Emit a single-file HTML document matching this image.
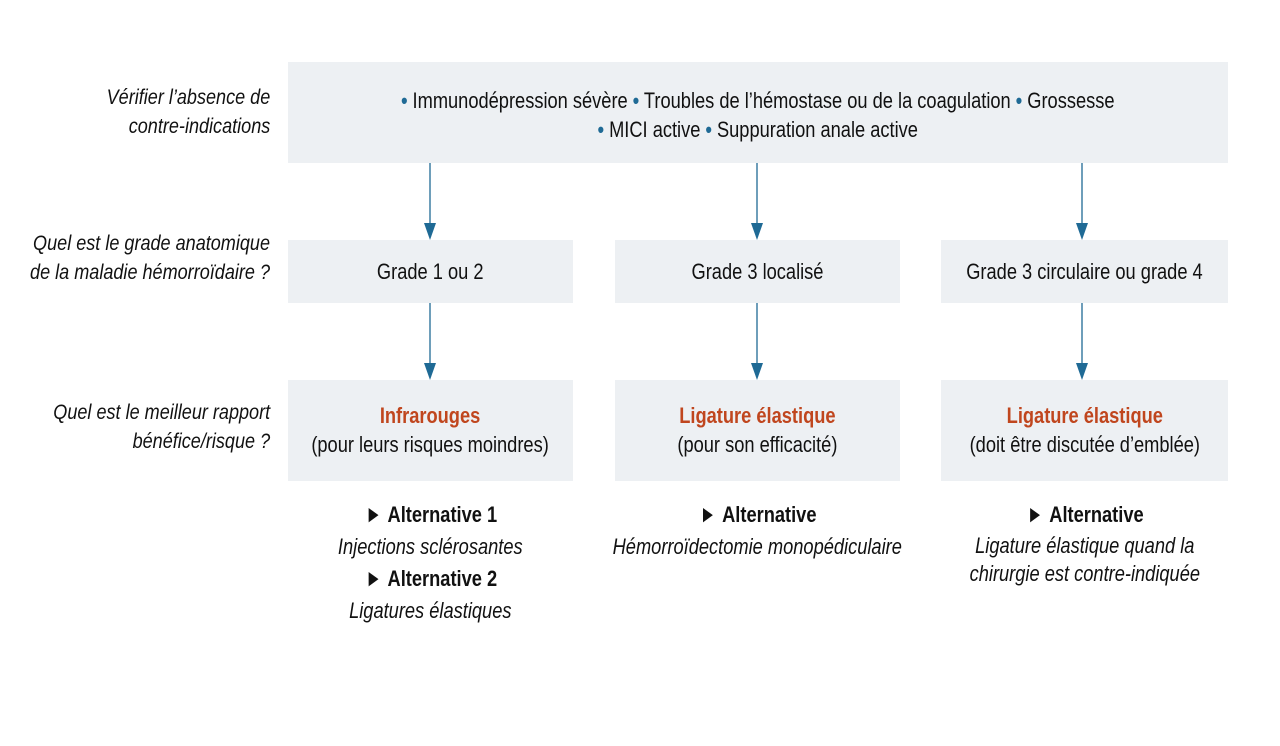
<!DOCTYPE html>
<html><head><meta charset="utf-8"><style>
body{margin:0;width:1280px;height:746px;background:#fff;position:relative;overflow:hidden;font-family:"Liberation Sans Narrow","Liberation Sans",sans-serif;color:#111}
.b{position:absolute;background:#edf0f3}
.t{position:absolute;text-align:center;font-size:22px;line-height:29px;white-space:nowrap}
.t span,.l span{display:inline-block;transform:scaleX(0.83)}
.t span{transform-origin:center}
.l{position:absolute;right:1010px;text-align:right;font-style:italic;font-size:21px;line-height:29px;white-space:nowrap}
.l span{transform-origin:right;transform:scaleX(0.86)}
.r{color:#c0461e;font-weight:bold}
.d{color:#1f6a95}
.a{font-size:24px}
</style></head><body>
<div class="b" style="left:288px;top:62px;width:940px;height:101px"></div>
<div class="b" style="left:288px;top:240px;width:285px;height:63px"></div>
<div class="b" style="left:615px;top:240px;width:285px;height:63px"></div>
<div class="b" style="left:941px;top:240px;width:287px;height:63px"></div>
<div class="b" style="left:288px;top:380px;width:285px;height:101px"></div>
<div class="b" style="left:615px;top:380px;width:285px;height:101px"></div>
<div class="b" style="left:941px;top:380px;width:287px;height:101px"></div>
<svg width="1280" height="746" style="position:absolute;left:0;top:0">
<g stroke="#1f6a95" stroke-width="1.3"><line x1="430" y1="163" x2="430" y2="226"/><line x1="757" y1="163" x2="757" y2="226"/><line x1="1082" y1="163" x2="1082" y2="226"/>
<line x1="430" y1="303" x2="430" y2="366"/><line x1="757" y1="303" x2="757" y2="366"/><line x1="1082" y1="303" x2="1082" y2="366"/></g>
<g fill="#1f6a95"><path d="M424 223h12l-6 17z"/><path d="M751 223h12l-6 17z"/><path d="M1076 223h12l-6 17z"/>
<path d="M424 363h12l-6 17z"/><path d="M751 363h12l-6 17z"/><path d="M1076 363h12l-6 17z"/></g>
</svg>
<div class="l" style="top:83px"><span>Vérifier l’absence de<br>contre-indications</span></div>
<div class="l" style="top:229px"><span>Quel est le grade anatomique<br>de la maladie hémorroïdaire ?</span></div>
<div class="l" style="top:398px"><span>Quel est le meilleur rapport<br>bénéfice/risque ?</span></div>
<div class="t" style="left:288px;width:940px;top:86px"><span><b class="d">•</b> Immunodépression sévère <b class="d">•</b> Troubles de l’hémostase ou de la coagulation <b class="d">•</b> Grossesse<br><b class="d">•</b> MICI active <b class="d">•</b> Suppuration anale active</span></div>
<div class="t" style="left:238px;width:385px;top:257px"><span>Grade 1 ou 2</span></div>
<div class="t" style="left:565px;width:385px;top:257px"><span>Grade 3 localisé</span></div>
<div class="t" style="left:891px;width:387px;top:257px"><span>Grade 3 circulaire ou grade 4</span></div>
<div class="t" style="left:238px;width:385px;top:401px"><span><b class="r">Infrarouges</b><br>(pour leurs risques moindres)</span></div>
<div class="t" style="left:565px;width:385px;top:401px"><span><b class="r">Ligature élastique</b><br>(pour son efficacité)</span></div>
<div class="t" style="left:891px;width:387px;top:401px"><span><b class="r">Ligature élastique</b><br>(doit être discutée d’emblée)</span></div>
<div class="t" style="left:238px;width:385px;top:499px;line-height:32px"><span><b><span class="a">►</span> Alternative 1</b><br><i>Injections sclérosantes</i><br><b><span class="a">►</span> Alternative 2</b><br><i>Ligatures élastiques</i></span></div>
<div class="t" style="left:565px;width:385px;top:499px;line-height:32px"><span><b><span class="a">►</span> Alternative</b><br><i>Hémorroïdectomie monopédiculaire</i></span></div>
<div class="t" style="left:891px;width:387px;top:499px;line-height:32px"><span><b><span class="a">►</span> Alternative</b></span></div>
<div class="t" style="left:891px;width:387px;top:532px;line-height:28px"><span><i>Ligature élastique quand la<br>chirurgie est contre-indiquée</i></span></div>
</body></html>
